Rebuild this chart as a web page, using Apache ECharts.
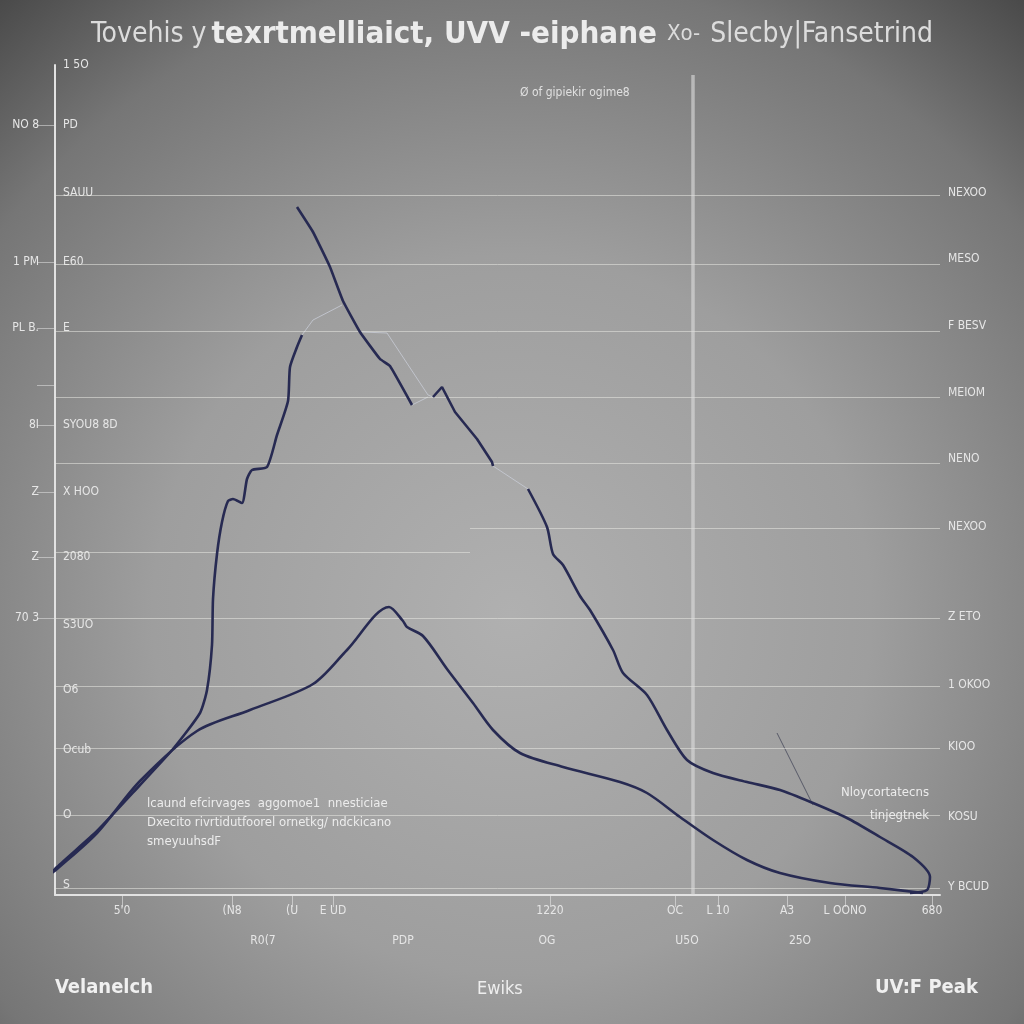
<!DOCTYPE html>
<html>
<head>
<meta charset="utf-8">
<script src="https://cdn.jsdelivr.net/npm/echarts@6/dist/echarts.min.js"></script>
<style>
html,body{margin:0;padding:0;width:1024px;height:1024px;overflow:hidden;background:#777;}
#c{width:1024px;height:1024px;}
</style>
</head>
<body>
<div id="c"></div>
<script>
// ---- data (x: wavelength-like units, y: intensity-like units) ----
var curveRise = [[-1.3,1.1],[0.2,2.8],[4.2,6.4],[8.5,11.0],[11.8,14.6],[14.5,18.2],[15.2,20.5],[15.7,25.0],[15.8,29.6],[16.2,34.1],[16.7,37.3],[17.3,39.4],[17.8,39.6],[18.7,39.2],[19.2,41.6],[19.7,42.5],[21.2,42.8],[22.2,46.0],[23.3,49.4],[23.5,52.8],[24.2,54.8],[24.7,56.0]];
var curveThin1 = [[24.7,56.0],[25.8,57.5],[28.7,59.0]];
var curvePeak = [[24.2,68.8],[25.8,66.3],[27.5,62.8],[28.8,59.4],[30.5,56.3],[32.5,53.6],[33.5,52.9],[35.7,49.0]];
var curveThin2 = [[30.7,56.3],[33.2,56.2],[37.3,50.0],[37.8,49.8]];
var curveThin2b = [[35.7,49.0],[37.3,49.8]];
var curveMid = [[37.8,49.8],[38.7,50.8],[40.0,48.3],[42.2,45.6],[43.7,43.3],[43.8,42.9]];
var curveThin3 = [[43.8,42.9],[47.3,40.6]];
var curveFall = [[47.3,40.6],[49.2,36.8],[49.8,34.1],[50.8,33.0],[52.5,29.9],[53.5,28.5],[55.8,24.5],[56.8,22.2],[59.2,20.0],[61.2,16.5],[63.2,13.5],[65.8,12.2],[69.2,11.3],[72.5,10.5],[75.8,9.2],[79.2,7.7],[82.5,5.8],[85.8,3.8],[87.5,1.8],[87.2,0.5],[85.5,0.2]];
var curveLow = [[-1.3,0.6],[-1.0,1.6],[0.2,2.6],[4.2,6.2],[8.5,11.4],[14.2,16.4],[19.5,18.5],[25.8,21.1],[29.2,24.5],[33.4,28.8],[34.8,27.4],[35.2,26.8],[36.8,25.9],[39.2,22.6],[41.8,19.2],[43.8,16.5],[46.5,14.2],[50.8,12.8],[56.5,11.3],[59.2,10.2],[62.5,7.8],[65.8,5.5],[69.2,3.5],[72.5,2.2],[77.5,1.2],[82.5,0.7],[86.8,0.2]];
var pointerLine = [[72.2,16.2],[75.8,9.0]];
var peakMarkerX = 63.8;

var gridFull = [0.7,8.0,14.7,20.9,27.7,43.2,49.8,56.4,63.1,70.0];
var gridLeftPart = [34.3];
var gridRightPart = [36.7];

var leftInnerVals = [83,77.0,70.2,63.3,56.7,47.0,40.3,33.8,27.0,20.5,14.5,8.0,1.0];
var leftInnerLabels = ['1 5O','PD','SAUU','E60','E','SYOU8 8D','X HOO','2080','S3UO','O6','Ocub','O','S'];
var leftOuterVals = [77.0,63.3,56.7,51.0,47.0,40.3,33.8,27.7];
var leftOuterLabels = ['NO 8','1 PM','PL B.','','8I','Z','Z','70 3'];
var rightVals = [70.2,63.6,56.9,50.2,43.6,36.8,27.8,21.0,14.8,7.8,0.8];
var rightLabels = ['NEXOO','MESO','F BESV','MEIOM','NENO','NEXOO','Z ETO','1 OKOO','KIOO','KOSU','Y BCUD'];
var bottomVals1 = [6.7,17.7,23.7,27.8,49.5,62.0,66.3,73.2,79.0,87.7];
var bottomLabels1 = ['5\'0','(N8','(U','E UD','1220','OC','L 10','A3','L OONO','680'];
var bottomVals2 = [20.8,34.8,49.2,63.2,74.5];
var bottomLabels2 = ['R0(7','PDP','OG','U5O','25O'];

function lookup(vals, labels){
  return function(v){
    for (var i=0;i<vals.length;i++){ if (Math.abs(vals[i]-v)<1e-6) return labels[i]; }
    return '';
  };
}

var FONT = "'DejaVu Sans Condensed','Liberation Sans Narrow','Liberation Sans',sans-serif";
var LBL = {color:'#e6e6e6', fontFamily:FONT, fontSize:12};
var NAVY = '#272a52';

function thick(data, smooth){
  return {type:'line', data:data, symbol:'none', smooth:smooth||0, clip:false, silent:true,
    lineStyle:{color:NAVY, width:2.6}, z:5};
}
function thin(data){
  return {type:'line', data:data, symbol:'none', clip:false, silent:true,
    lineStyle:{color:'rgba(200,204,214,0.8)', width:1}, z:4};
}

var gridLines = [];
gridFull.forEach(function(v){ gridLines.push([{coord:[0,v]},{coord:[88.5,v]}]); });
gridLeftPart.forEach(function(v){ gridLines.push([{coord:[0,v]},{coord:[41.5,v]}]); });
gridRightPart.forEach(function(v){ gridLines.push([{coord:[41.5,v]},{coord:[88.5,v]}]); });

var chart = echarts.init(document.getElementById('c'));
chart.setOption({
  animation:false,
  backgroundColor:{type:'radial', x:0.5, y:0.6, r:0.78,
    colorStops:[{offset:0,color:'#b0b0b0'},{offset:0.45,color:'#9e9e9e'},{offset:0.8,color:'#767676'},{offset:1,color:'#4a4a4a'}]},
  title:[
    {text:'{a|Tovehis y} {b|texrtmelliaict, UVV -eiphane}  {c|Xo-}  {a|Slecby|Fansetrind}', left:'center', top:14,
      textStyle:{rich:{
        a:{fontFamily:FONT, fontSize:28, color:'#dcdcdc', fontWeight:'normal'},
        b:{fontFamily:FONT, fontSize:31, color:'#ececec', fontWeight:'bold'},
        c:{fontFamily:FONT, fontSize:22, color:'#dcdcdc', fontWeight:'normal'}}}},
    {text:'Ø of gipiekir ogime8', left:515, top:82, textStyle:{fontFamily:FONT, fontSize:12, color:'#e0e0e0', fontWeight:'normal'}},
    {text:'lcaund efcirvages  aggomoe1  nnesticiae\nDxecito rivrtidutfoorel ornetkg/ ndckicano\nsmeyuuhsdF', left:142, top:789,
      textStyle:{fontFamily:FONT, fontSize:13, lineHeight:19, color:'#ececec', fontWeight:'normal'}},
    {text:'Nloycortatecns', right:90, top:781, textStyle:{fontFamily:FONT, fontSize:13, color:'#ececec', fontWeight:'normal'}},
    {text:'tinjegtnek', right:90, top:804, textStyle:{fontFamily:FONT, fontSize:13, color:'#ececec', fontWeight:'normal'}},
    {text:'Velanelch', left:50, top:973, textStyle:{fontFamily:FONT, fontSize:20, color:'#f0f0f0', fontWeight:'bold'}},
    {text:'Ewiks', left:472, top:975, textStyle:{fontFamily:FONT, fontSize:18, color:'#eeeeee', fontWeight:'normal'}},
    {text:'UV:F Peak', left:870, top:973, textStyle:{fontFamily:FONT, fontSize:20, color:'#f0f0f0', fontWeight:'bold'}}
  ],
  grid:{left:55, right:84, top:65, bottom:129, containLabel:false, outerBoundsMode:'none'},
  xAxis:[
    {type:'value', min:0, max:88.5, position:'bottom',
      axisLine:{show:true, lineStyle:{color:'#e2e2e2', width:2}},
      axisTick:{show:true, length:12, inside:false, customValues:bottomVals1, lineStyle:{color:'rgba(230,230,230,0.6)'}},
      axisLabel:Object.assign({customValues:bottomVals1, formatter:lookup(bottomVals1,bottomLabels1), margin:10}, LBL),
      splitLine:{show:false}},
    {type:'value', min:0, max:88.5, position:'bottom',
      axisLine:{show:false}, axisTick:{show:false},
      axisLabel:Object.assign({customValues:bottomVals2, formatter:lookup(bottomVals2,bottomLabels2), margin:40}, LBL),
      splitLine:{show:false}}
  ],
  yAxis:[
    {type:'value', min:0, max:83, position:'left',
      axisLine:{show:true, lineStyle:{color:'#e2e2e2', width:2}},
      axisTick:{show:false},
      axisLabel:Object.assign({inside:true, customValues:leftInnerVals, formatter:lookup(leftInnerVals,leftInnerLabels), margin:8}, LBL),
      splitLine:{show:false}},
    {type:'value', min:0, max:83, position:'left',
      axisLine:{show:false},
      axisTick:{show:true, length:18, customValues:leftOuterVals, lineStyle:{color:'rgba(225,225,225,0.55)'}},
      axisLabel:Object.assign({customValues:leftOuterVals, formatter:lookup(leftOuterVals,leftOuterLabels), margin:16}, LBL),
      splitLine:{show:false}},
    {type:'value', min:0, max:83, position:'right',
      axisLine:{show:false}, axisTick:{show:false},
      axisLabel:Object.assign({customValues:rightVals, formatter:lookup(rightVals,rightLabels), margin:8}, LBL),
      splitLine:{show:false}}
  ],
  series:[
    {type:'line', data:[], silent:true, clip:false,
      markLine:{silent:true, symbol:'none', label:{show:false},
        lineStyle:{color:'rgba(232,232,225,0.55)', width:1, type:'solid'},
        data:gridLines}},
    {type:'line', data:[], silent:true, clip:false,
      markLine:{silent:true, symbol:'none', label:{show:false},
        lineStyle:{color:'rgba(222,222,222,0.6)', width:3.5, type:'solid'},
        data:[[{coord:[peakMarkerX,0]},{coord:[peakMarkerX,82]}]]}},
    thick(curveRise, 0.2),
    thin(curveThin1),
    thick(curvePeak, 0.1),
    thin(curveThin2),
    thin(curveThin2b),
    thick(curveMid, 0),
    thin(curveThin3),
    thick(curveFall, 0.25),
    thick(curveLow, 0.3),
    {type:'line', data:pointerLine, symbol:'none', clip:false, silent:true, lineStyle:{color:'rgba(70,72,90,0.8)', width:1}}
  ]
});
</script>
</body>
</html>
